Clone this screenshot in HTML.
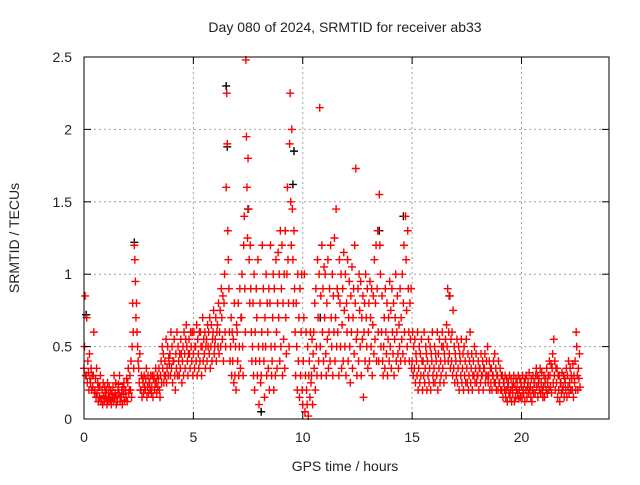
<!DOCTYPE html>
<html><head><meta charset="utf-8"><style>
body{margin:0;background:#fff}
svg text{font-family:"Liberation Sans",sans-serif;font-size:14px;fill:#222}
</style></head><body>
<svg id="c" width="640" height="480" xmlns="http://www.w3.org/2000/svg">
<rect width="640" height="480" fill="#fff"/>
<text x="345" y="32" text-anchor="middle">Day 080 of 2024, SRMTID for receiver ab33</text>
<text x="345" y="471" text-anchor="middle">GPS time / hours</text>
<text transform="translate(19,238) rotate(-90)" text-anchor="middle">SRMTID / TECUs</text>
<g id="grid"></g><g id="blk"></g><g id="pts"></g><g id="axes"></g>
</svg>
<script>
const xTicks=[0,5,10,15,20];
const yTicks=[0,0.5,1,1.5,2,2.5];
const yTickLabels=["0","0.5","1","1.5","2","2.5"];
const startHour=0;
const stepHours=0.1;
const srmtid=[
[.35,.5,.85,.3],[.3,.7,.25,.4],[.32,.2,.45,.28],[.25,.35,.2,.3],[.22,.3,.6,.18],[.2,.28,.15,.35],[.18,.25,.12,.22],[.15,.22,.3,.12],[.14,.2,.1,.25],[.16,.12,.22,.18],
[.15,.2,.1,.25],[.12,.18,.22,.14],[.13,.2,.1,.17],[.15,.22,.12,.3],[.14,.18,.25,.1],[.16,.12,.2,.24],[.18,.3,.12,.15],[.15,.2,.1,.22],[.17,.25,.13,.2],[.2,.15,.28,.12],
[.25,.35,.18,.2],[.3,.2,.4,.15],[.5,.8,.6,.35],[1.2,1.1,.95,.7],[.8,.6,.5,.4],[.35,.25,.45,.2],[.2,.3,.15,.28],[.25,.18,.3,.22],[.2,.28,.35,.15],[.22,.3,.18,.25],
[.25,.2,.3,.18],[.22,.3,.15,.28],[.3,.2,.25,.35],[.25,.18,.3,.22],[.28,.35,.2,.15],[.3,.4,.25,.5],[.35,.45,.25,.3],[.4,.3,.55,.25],[.35,.5,.3,.42],[.38,.45,.3,.6],
[.35,.5,.25,.4],[.4,.55,.3,.2],[.45,.35,.6,.3],[.5,.4,.3,.45],[.35,.55,.45,.25],[.4,.5,.3,.6],[.45,.35,.55,.65],[.5,.4,.3,.45],[.55,.45,.35,.6],[.5,.4,.6,.3],
[.45,.6,.35,.5],[.5,.4,.65,.3],[.55,.45,.35,.6],[.4,.6,.5,.3],[.5,.7,.4,.55],[.45,.6,.35,.5],[.55,.4,.65,.5],[.6,.45,.7,.35],[.5,.65,.4,.55],[.6,.75,.45,.5],
[.55,.7,.4,.6],[.65,.5,.8,.45],[.6,.75,.5,.9],[.7,.55,.85,.4],[.8,1.0,.6,.5],[1.6,2.25,1.9,1.3],[1.1,.9,.6,.4],[.5,.7,.3,.6],[.4,.55,.25,.8],[.3,.5,.2,.65],
[.6,.4,.8,.3],[.5,.9,.35,.7],[.7,1.0,.5,.3],[1.2,1.4,.9,.6],[2.48,1.95,1.6,1.25],[1.8,1.45,1.1,.8],[1.2,.9,.6,.4],[.5,.8,.3,1.0],[.2,.6,.4,.9],[.7,.3,1.1,.5],
[.1,.4,.8,.25],[.3,.6,1.2,.5],[.9,.4,.15,.7],[.5,1.0,.3,.8],[.6,.35,.9,.2],[.8,1.2,.5,.3],[.4,.7,1.0,.2],[.9,.5,.3,1.1],[.6,.35,.8,1.15],[.7,1.0,.4,1.3],
[.5,.9,1.2,.3],[.8,.55,1.0,.35],[1.3,.7,.45,1.0],[1.6,1.1,.8,.5],[1.9,2.25,1.5,1.2],[2.0,1.45,1.1,.8],[1.3,.9,.6,.3],[.8,.5,.2,1.0],[.4,.7,.15,.9],[.3,.6,1.0,.2],
[.1,.4,.7,1.0],[.05,.3,.6,.2],[.1,.5,.02,.3],[.4,.15,.6,.25],[.3,.55,.1,.45],[.6,.35,.8,.2],[.9,.5,.3,1.1],[.7,.4,1.0,2.15],[.5,.85,.3,1.2],[.6,.9,.4,1.05],
[.7,1.0,.45,.3],[.8,.55,1.1,.35],[.6,.9,.4,1.2],[.7,.5,1.0,.3],[.85,.6,1.25,.4],[.7,1.45,.5,.9],[.6,.85,.3,1.1],[.8,.5,1.0,.35],[.65,.9,.4,1.15],[.75,.5,1.0,.3],
[.8,.6,1.1,.4],[.7,.95,.5,.25],[.85,.6,1.05,.35],[.7,.9,.45,1.2],[.8,1.73,.55,.3],[.6,.9,.4,1.0],[.75,.5,.95,.3],[.7,.55,.85,.15],[.6,.8,.4,1.0],[.7,.5,.9,.35],
[.6,.8,.4,.95],[.7,.5,.9,.3],[.65,.85,.45,1.1],[.55,.8,1.2,.4],[.9,1.3,.6,.4],[1.55,1.2,1.0,.5],[.6,.85,.4,.3],[.5,.7,.35,.9],[.6,.45,.8,.3],[.55,.7,.4,.95],
[.5,.75,.35,.9],[.6,.45,.8,.3],[.55,.7,1.0,.4],[.6,.85,.45,.35],[.65,.5,.9,.4],[.7,.55,1.0,.45],[.8,1.2,.6,.4],[1.4,1.1,.75,.5],[1.3,.9,.6,.4],[.8,.55,.9,.35],
[.4,.6,.3,.5],[.35,.55,.25,.45],[.4,.3,.6,.2],[.35,.5,.25,.45],[.3,.55,.4,.2],[.4,.3,.6,.25],[.35,.5,.45,.2],[.4,.3,.55,.25],[.35,.5,.2,.45],[.4,.6,.3,.25],
[.35,.5,.25,.45],[.4,.3,.6,.2],[.45,.35,.55,.25],[.4,.3,.5,.6],[.35,.5,.25,.45],[.4,.55,.3,.65],[.5,.9,.4,.6],[.45,.85,.35,.55],[.4,.6,.3,.75],[.35,.5,.25,.45],
[.4,.3,.55,.25],[.35,.5,.2,.45],[.4,.3,.55,.25],[.35,.45,.2,.5],[.3,.4,.25,.55],[.35,.25,.45,.2],[.3,.4,.6,.25],[.35,.45,.2,.3],[.4,.3,.5,.25],[.35,.45,.25,.3],
[.3,.4,.2,.35],[.35,.25,.45,.3],[.3,.4,.2,.35],[.35,.45,.25,.3],[.4,.3,.5,.25],[.3,.4,.2,.35],[.25,.35,.2,.3],[.3,.4,.25,.45],[.25,.35,.2,.3],[.3,.2,.4,.25],
[.25,.35,.2,.3],[.2,.3,.15,.25],[.25,.2,.3,.15],[.2,.28,.12,.22],[.25,.18,.3,.15],[.2,.28,.12,.22],[.18,.25,.3,.12],[.22,.15,.28,.2],[.25,.18,.3,.14],[.2,.28,.15,.25],
[.22,.15,.3,.2],[.18,.25,.12,.28],[.2,.3,.15,.22],[.25,.18,.32,.2],[.22,.15,.28,.12],[.2,.3,.18,.25],[.25,.18,.3,.35],[.22,.3,.15,.25],[.28,.2,.35,.18],[.25,.32,.2,.15],
[.22,.3,.15,.25],[.28,.2,.35,.18],[.25,.3,.2,.4],[.3,.22,.38,.18],[.35,.45,.25,.55],[.3,.4,.2,.35],[.25,.35,.15,.3],[.2,.3,.12,.25],[.25,.18,.32,.2],[.22,.3,.15,.28],
[.25,.2,.35,.15],[.3,.22,.4,.18],[.25,.35,.2,.3],[.28,.2,.38,.15],[.3,.25,.4,.2],[.6,.5,.3,.2],[.35,.28,.45,.22]
];
const blackTimes=[2.3,6.5,6.55,7.5,9.6,9.55,10.8,14.6,13.5,16.7,0.1,8.1];
const blackValues=[1.22,2.3,1.88,1.45,1.85,1.62,0.7,1.4,1.3,0.85,0.72,0.05];
const X=h=>84+h*(525/24), Y=v=>419-v*(362/2.5);
const NS="http://www.w3.org/2000/svg";
function mk(tag,attrs,parent){const e=document.createElementNS(NS,tag);for(const k in attrs)e.setAttribute(k,attrs[k]);parent.appendChild(e);return e;}
const grid=document.getElementById('grid'),axes=document.getElementById('axes'),pts=document.getElementById('pts'),blk=document.getElementById('blk');
xTicks.forEach((t,i)=>{const x=X(t);
 if(t>0){const g=mk('line',{x1:x,x2:x,y1:57,y2:419,stroke:'#a0a0a0','stroke-dasharray':'2,3'},grid);
 
 }
 mk('line',{x1:x,x2:x,y1:419,y2:412,stroke:'#000'},axes);mk('line',{x1:x,x2:x,y1:57,y2:64,stroke:'#000'},axes);
 const l=mk('text',{x:x,y:442,'text-anchor':'middle'},axes);l.textContent=t;
 
 });
yTicks.forEach((t,i)=>{const y=Y(t);
 if(t>0&&t<2.5){const g=mk('line',{x1:84,x2:609,y1:y,y2:y,stroke:'#a0a0a0','stroke-dasharray':'2,3'},grid);
 
 }
 mk('line',{x1:84,x2:91,y1:y,y2:y,stroke:'#000'},axes);mk('line',{x1:609,x2:602,y1:y,y2:y,stroke:'#000'},axes);
 const l=mk('text',{x:72,y:y+5,'text-anchor':'end'},axes);l.textContent=yTickLabels[i];
 
 });
const fr=mk('rect',{x:84,y:57,width:525,height:362,fill:'none',stroke:'#000'},axes);


function plus(x,y,c,parent){return mk('path',{d:`M${x-4},${y}h8M${x},${y-4}v8`,stroke:c,'stroke-width':1.4,fill:'none'},parent);}
blackTimes.forEach((t,i)=>{const p=plus(X(t),Y(blackValues[i]),'#000',blk);
 
 });
srmtid.forEach((vals,i)=>{const t=startHour+i*stepHours;vals.forEach((v,j)=>{
 const p=plus(X(t+j*0.025),Y(v),'#ff0000',pts);
 
 });});
</script>
</body></html>
